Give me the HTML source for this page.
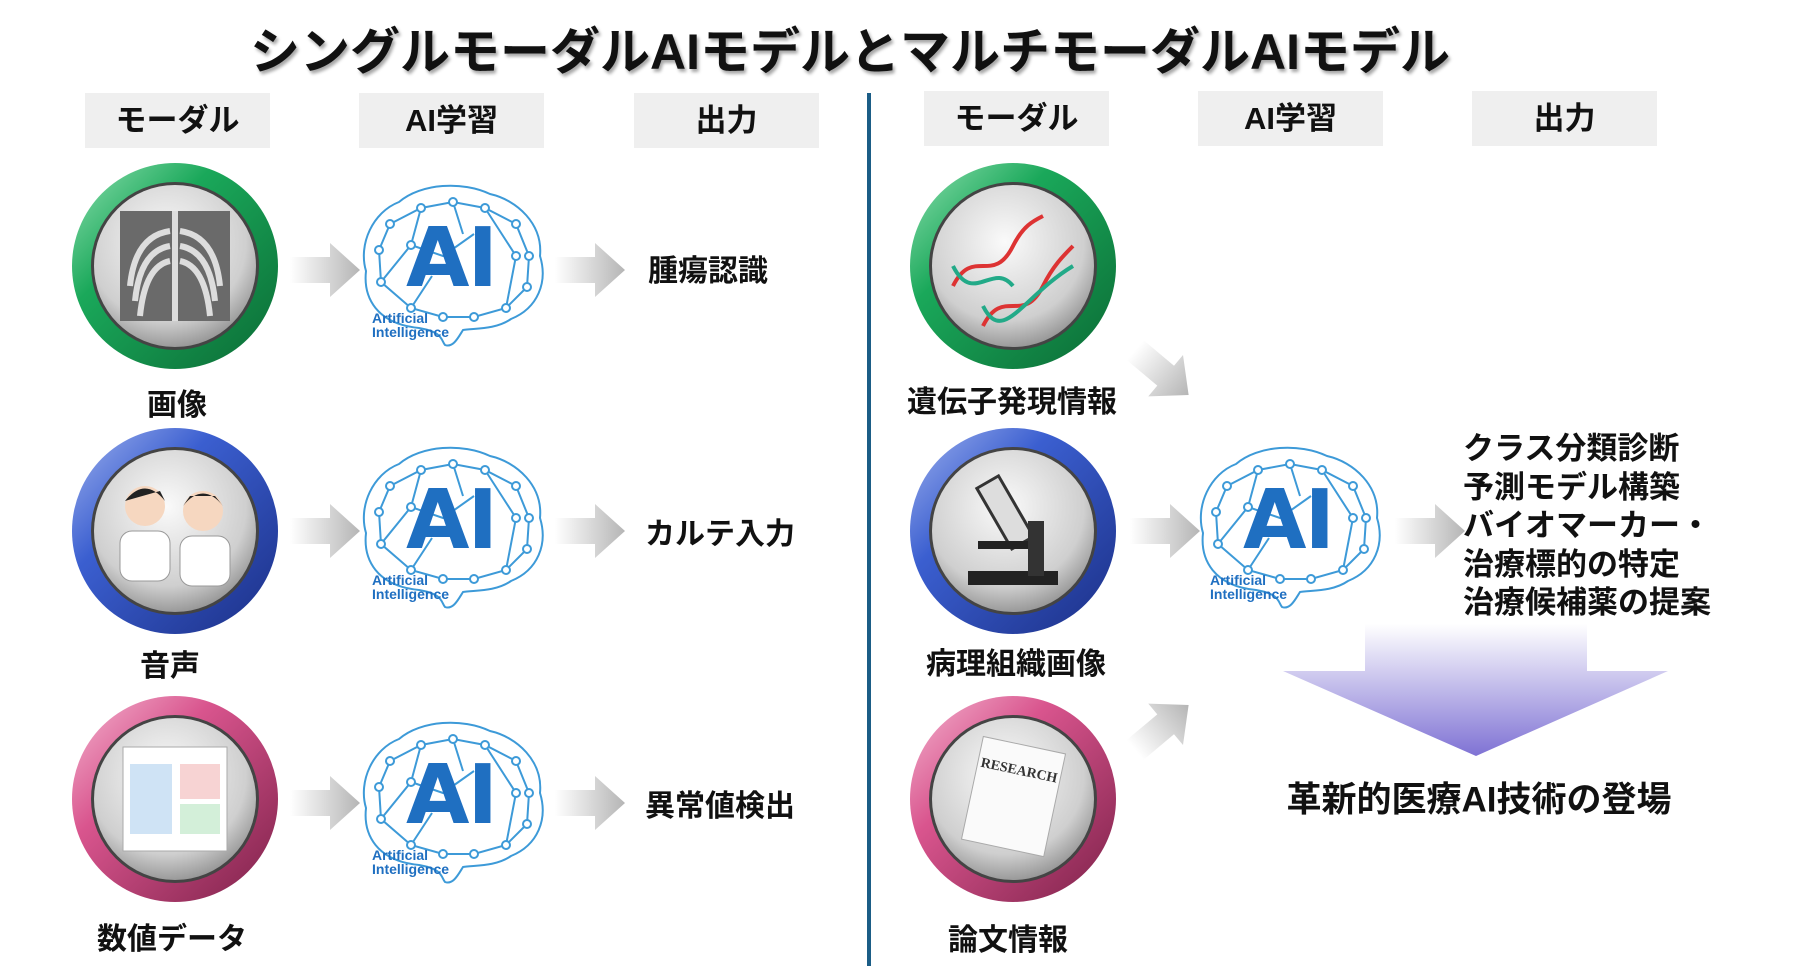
<!DOCTYPE html>
<html><head><meta charset="utf-8">
<style>
*{margin:0;padding:0;box-sizing:border-box}
body{width:1820px;height:974px;background:#fff;position:relative;overflow:hidden;font-family:"Liberation Sans","Noto Sans CJK JP",sans-serif;font-weight:bold;color:#111}
.t{position:absolute;white-space:nowrap}
.hd{position:absolute;background:#efefef;height:55px;width:185px;text-align:center;line-height:55px;font-size:31px}
.lbl{position:absolute;width:300px;text-align:center;font-size:30px;transform:translate(-150px,-50%)}
.out{position:absolute;font-size:30px;transform:translateY(-50%)}
.ai{position:absolute;font-size:82px;line-height:1;color:#1f6fc1;font-family:'DejaVu Sans',sans-serif;font-weight:bold;letter-spacing:-2px}
svg{position:absolute;left:0;top:0}
</style></head><body>
<svg width="1820" height="974" viewBox="0 0 1820 974">
<defs>
<radialGradient id="inner" cx="45%" cy="35%" r="70%"><stop offset="0" stop-color="#fafafa"/><stop offset="0.7" stop-color="#cfcfcf"/><stop offset="1" stop-color="#8a8a8a"/></radialGradient>
<linearGradient id="gG" x1="0" y1="0" x2="1" y2="1"><stop offset="0" stop-color="#8fe0b0"/><stop offset="0.35" stop-color="#1aa85a"/><stop offset="1" stop-color="#0b6b35"/></linearGradient>
<linearGradient id="gB" x1="0" y1="0" x2="1" y2="1"><stop offset="0" stop-color="#9fb2ee"/><stop offset="0.35" stop-color="#3b5fd0"/><stop offset="1" stop-color="#1b2f86"/></linearGradient>
<linearGradient id="gP" x1="0" y1="0" x2="1" y2="1"><stop offset="0" stop-color="#f4b6d0"/><stop offset="0.35" stop-color="#d9558e"/><stop offset="1" stop-color="#7d2149"/></linearGradient>
<linearGradient id="arr" x1="0" y1="0" x2="1" y2="0"><stop offset="0" stop-color="#fff"/><stop offset="1" stop-color="#b5b5b5"/></linearGradient>
<linearGradient id="big" x1="0" y1="0" x2="0" y2="1"><stop offset="0" stop-color="#fff"/><stop offset="1" stop-color="#7f72d4"/></linearGradient>
<g id="arrowH"><polygon points="0,-13 40,-13 40,-27 70,0 40,27 40,13 0,13" fill="url(#arr)"/></g>
<g id="brain" fill="none" stroke="#3d9ad8" stroke-width="2">
<path d="M-34,62 C-76,58 -90,32 -87,5 C-95,-22 -80,-54 -54,-64 C-32,-83 10,-85 37,-72 C64,-66 90,-42 87,-10 C95,16 85,42 58,53 C42,64 21,62 10,64 C5,72 0,82 -8,79 C-12,74 -10,66 -34,62 Z"/>
<path d="M-63,-42 L-32,-58 L0,-64 L32,-58 L63,-42 L76,-10 L74,21 L53,42 L21,51 L-10,51 L-42,42 L-72,16 L-74,-16 Z M-32,-58 L-42,-21 L-72,16 M0,-64 L10,-32 M32,-58 L63,-10 L53,42 M-42,-21 L-10,-10 L21,-32 M-42,42 L-21,10"/>
<g fill="#fff"><circle cx="-63" cy="-42" r="4"/><circle cx="-32" cy="-58" r="4"/><circle cx="0" cy="-64" r="4"/><circle cx="32" cy="-58" r="4"/><circle cx="63" cy="-42" r="4"/><circle cx="76" cy="-10" r="4"/><circle cx="74" cy="21" r="4"/><circle cx="53" cy="42" r="4"/><circle cx="21" cy="51" r="4"/><circle cx="-10" cy="51" r="4"/><circle cx="-42" cy="42" r="4"/><circle cx="-72" cy="16" r="4"/><circle cx="-74" cy="-16" r="4"/><circle cx="-42" cy="-21" r="4"/><circle cx="63" cy="-10" r="4"/></g>
</g>
</defs>

<line x1="869" y1="93" x2="869" y2="966" stroke="#1b5d86" stroke-width="4"/>

<g transform="translate(175,266)"><circle r="103" fill="url(#gG)"/><circle r="84" fill="#444"/><circle r="81" fill="url(#inner)"/><rect x="-55" y="-55" width="110" height="110" fill="#6a6a6a"/><g stroke="#ddd" stroke-width="6" fill="none"><line x1="0" y1="-55" x2="0" y2="55"/><path d="M-5,-35 Q-40,-30 -45,20 M-5,-20 Q-35,-15 -40,35 M-5,-5 Q-30,0 -35,50 M5,-35 Q40,-30 45,20 M5,-20 Q35,-15 40,35 M5,-5 Q30,0 35,50"/></g></g>
<g transform="translate(175,531)"><circle r="103" fill="url(#gB)"/><circle r="84" fill="#444"/><circle r="81" fill="url(#inner)"/><circle cx="-30" cy="-25" r="20" fill="#f6d7c0"/><path d="M-50,-30 Q-30,-55 -10,-30 L-15,-40 Z" fill="#222"/><rect x="-55" y="0" width="50" height="50" rx="12" fill="#fff" stroke="#999"/><circle cx="28" cy="-20" r="20" fill="#f6d7c0"/><path d="M8,-25 Q28,-50 48,-25 L40,-35 L15,-35Z" fill="#222"/><rect x="5" y="5" width="50" height="50" rx="12" fill="#fff" stroke="#999"/></g>
<g transform="translate(175,799)"><circle r="103" fill="url(#gP)"/><circle r="84" fill="#444"/><circle r="81" fill="url(#inner)"/><rect x="-52" y="-52" width="104" height="104" fill="#fff" stroke="#aaa"/><rect x="-45" y="-35" width="42" height="70" fill="#cfe3f5"/><rect x="5" y="-35" width="40" height="35" fill="#f7d3d3"/><rect x="5" y="5" width="40" height="30" fill="#d3efd9"/></g>
<g transform="translate(1013,266)"><circle r="103" fill="url(#gG)"/><circle r="84" fill="#444"/><circle r="81" fill="url(#inner)"/><g fill="none" stroke-width="4"><path d="M-60,20 C-40,-20 -20,20 0,-20 C10,-40 20,-45 30,-50" stroke="#d33"/><path d="M-60,0 C-40,40 -20,-5 0,20" stroke="#2a8"/><path d="M-30,60 C-10,20 10,60 30,20 C40,0 50,-10 60,-20" stroke="#d33"/><path d="M-30,40 C-10,80 10,30 60,0" stroke="#2a8"/></g></g>
<g transform="translate(1013,531)"><circle r="103" fill="url(#gB)"/><circle r="84" fill="#444"/><circle r="81" fill="url(#inner)"/><rect x="-10" y="-55" width="25" height="70" fill="#ddd" stroke="#333" stroke-width="3" transform="rotate(-30)"/><rect x="-45" y="40" width="90" height="14" fill="#222"/><rect x="15" y="-10" width="16" height="55" fill="#333"/><rect x="-35" y="10" width="50" height="8" fill="#222"/></g>
<g transform="translate(1013,799)"><circle r="103" fill="url(#gP)"/><circle r="84" fill="#444"/><circle r="81" fill="url(#inner)"/><rect x="-42" y="-55" width="84" height="105" fill="#fafafa" stroke="#aaa" transform="rotate(12)"/><text x="0" y="-25" font-size="14" text-anchor="middle" fill="#333" transform="rotate(12)" font-family="Liberation Serif">RESEARCH</text></g>

<g transform="translate(453,266)"><use href="#brain"/></g>
<g transform="translate(453,528)"><use href="#brain"/></g>
<g transform="translate(453,803)"><use href="#brain"/></g>
<g transform="translate(1290,528)"><use href="#brain"/></g>

<use href="#arrowH" x="290" y="270"/><use href="#arrowH" x="555" y="270"/>
<use href="#arrowH" x="290" y="531"/><use href="#arrowH" x="555" y="531"/>
<use href="#arrowH" x="290" y="803"/><use href="#arrowH" x="555" y="803"/>
<use href="#arrowH" x="1130" y="531"/><use href="#arrowH" x="1395" y="531"/>
<g transform="translate(1135,350) rotate(40)"><use href="#arrowH"/></g>
<g transform="translate(1135,750) rotate(-40)"><use href="#arrowH"/></g>

<polygon points="1365,624 1587,624 1587,671 1668,671 1476,756 1283,671 1365,671" fill="url(#big)"/>
</svg>

<div class="t" style="left:250px;top:12px;font-size:50px;text-shadow:2px 3px 3px rgba(0,0,0,.35)">シングルモーダルAIモデルとマルチモーダルAIモデル</div>

<div class="hd" style="left:85px;top:93px">モーダル</div>
<div class="hd" style="left:359px;top:93px">AI学習</div>
<div class="hd" style="left:634px;top:93px">出力</div>
<div class="hd" style="left:924px;top:91px">モーダル</div>
<div class="hd" style="left:1198px;top:91px">AI学習</div>
<div class="hd" style="left:1472px;top:91px">出力</div>

<div class="ai" style="left:406px;top:218px">AI</div>
<div class="ai" style="left:406px;top:480px">AI</div>
<div class="ai" style="left:406px;top:755px">AI</div>
<div class="ai" style="left:1243px;top:480px">AI</div>
<div class="t" style="left:372px;top:311px;font-size:14px;line-height:14px;color:#1f6fc1">Artificial<br>Intelligence</div>
<div class="t" style="left:372px;top:573px;font-size:14px;line-height:14px;color:#1f6fc1">Artificial<br>Intelligence</div>
<div class="t" style="left:372px;top:848px;font-size:14px;line-height:14px;color:#1f6fc1">Artificial<br>Intelligence</div>
<div class="t" style="left:1210px;top:573px;font-size:14px;line-height:14px;color:#1f6fc1">Artificial<br>Intelligence</div>

<div class="lbl" style="left:177px;top:402px">画像</div>
<div class="lbl" style="left:170px;top:663px">音声</div>
<div class="lbl" style="left:172px;top:936px">数値データ</div>
<div class="lbl" style="left:1012px;top:399px">遺伝子発現情報</div>
<div class="lbl" style="left:1016px;top:661px">病理組織画像</div>
<div class="lbl" style="left:1008px;top:937px">論文情報</div>

<div class="out" style="left:648px;top:268px">腫瘍認識</div>
<div class="out" style="left:645px;top:531px">カルテ入力</div>
<div class="out" style="left:645px;top:803px">異常値検出</div>

<div class="t" style="left:1463px;top:430px;font-size:31px;line-height:38.5px">クラス分類診断<br>予測モデル構築<br>バイオマーカー・<br>治療標的の特定<br>治療候補薬の提案</div>
<div class="t" style="left:1479px;top:797px;font-size:35px;transform:translate(-50%,-50%)">革新的医療AI技術の登場</div>
</body></html>
